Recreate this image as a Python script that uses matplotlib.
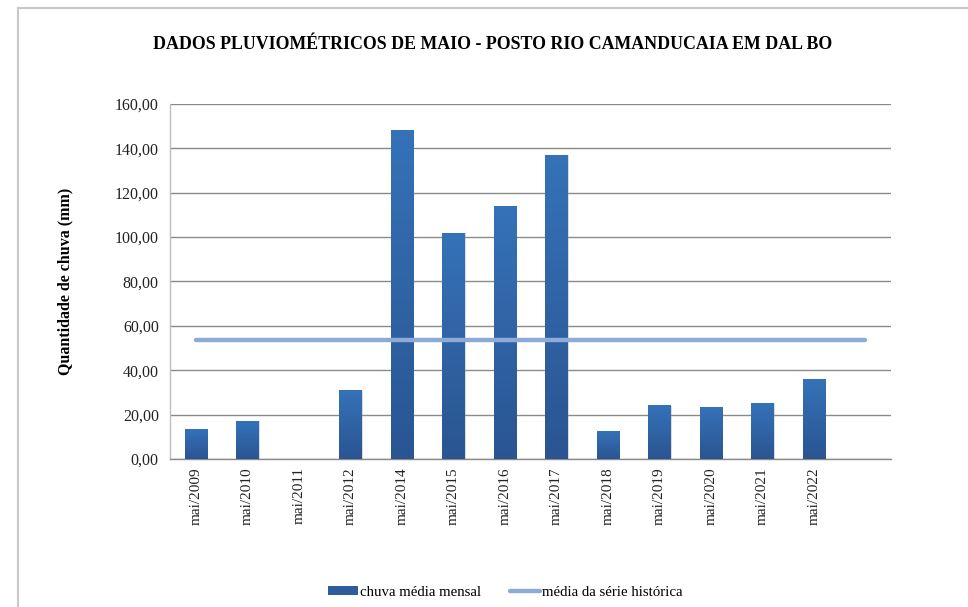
import matplotlib
matplotlib.use("Agg")
import matplotlib.pyplot as plt
import numpy as np
from matplotlib.colors import LinearSegmentedColormap
from matplotlib.lines import Line2D
from matplotlib.patches import Patch

# Monthly May rainfall (mm) at the Rio Camanducaia station in Dal Bo
categories = ["mai/2009", "mai/2010", "mai/2011", "mai/2012", "mai/2014",
              "mai/2015", "mai/2016", "mai/2017", "mai/2018", "mai/2019",
              "mai/2020", "mai/2021", "mai/2022", ""]
rain = [13.1, 17.1, 0.0, 30.8, 148.2, 101.8, 114.0, 137.0, 12.2, 23.9,
        23.4, 25.2, 36.0, 0.0]
historic_mean = [53.8] * len(categories)
yticks = [0, 20, 40, 60, 80, 100, 120, 140, 160]

plt.rcParams["font.family"] = ["Liberation Serif", "DejaVu Serif"]

fig = plt.figure(figsize=(9.68, 6.07), dpi=100)
ax = fig.add_axes([0.1756, 0.2438, 0.7449, 0.5849])

x = np.arange(len(categories))
bar_w = 0.43
grad = LinearSegmentedColormap.from_list("bar", ["#2a5592", "#3572b8"])
gimg = np.linspace(0, 1, 256).reshape(-1, 1)

for xi, v in zip(x, rain):
    if v <= 0:
        continue
    # soft shadow behind each bar
    ax.bar(xi + 0.03, v, width=bar_w, color="#9a9a9a", alpha=0.35,
           zorder=2, linewidth=0)
    ax.imshow(gimg, cmap=grad, origin="lower", aspect="auto",
              extent=(xi - bar_w / 2, xi + bar_w / 2, 0, v), zorder=3)

ax.plot(x, historic_mean, color="#8eaad6", linewidth=3.2,
        solid_capstyle="round", zorder=4)

ax.set_xlim(-0.5, len(categories) - 0.5)
ax.set_ylim(0, 160)
ax.set_yticks(yticks)
ax.set_yticklabels([f"{t:.2f}".replace(".", ",") for t in yticks],
                   fontsize=11.5, color="#222222")
ax.set_xticks(x)
ax.set_xticklabels(categories, rotation=90, fontsize=11, color="#222222")
ax.tick_params(axis="both", length=0, pad=8)
ax.tick_params(axis="x", pad=6)

ax.grid(axis="y", color="#8a8a8a", linewidth=1.0, zorder=0)
ax.set_axisbelow(True)
for s in ["top", "right"]:
    ax.spines[s].set_visible(False)
ax.spines["left"].set_color("#bfbfbf")
ax.spines["bottom"].set_color("#8a8a8a")
ax.spines["left"].set_linewidth(1.0)
ax.spines["bottom"].set_linewidth(1.0)

ax.set_ylabel("Quantidade de chuva (mm)", fontsize=11.5, fontweight="bold",
              labelpad=30)

fig.text(0.509, 0.927, "DADOS PLUVIOMÉTRICOS DE MAIO - POSTO RIO CAMANDUCAIA EM DAL BO",
         ha="center", va="center", fontsize=12.9, fontweight="bold")

handles = [Patch(facecolor="#2e5c9c", edgecolor="none"),
           Line2D([0], [0], color="#8eaad6", linewidth=3.2,
                  solid_capstyle="round")]
fig.legend(handles, ["chuva média mensal", "média da série histórica"],
           loc="center", bbox_to_anchor=(0.522, 0.024), ncol=2,
           frameon=False, fontsize=10.7, handlelength=2.0,
           handleheight=0.6, handletextpad=0.1, columnspacing=2.0)

# chart frame
fig.add_artist(Line2D([18 / 968, 18 / 968], [0, 1 - 8 / 607],
                      transform=fig.transFigure, color="#c8c8c8", linewidth=1.5))
fig.add_artist(Line2D([18 / 968, 1], [1 - 8 / 607, 1 - 8 / 607],
                      transform=fig.transFigure, color="#c8c8c8", linewidth=1.5))

fig.savefig("out.png", dpi=100, facecolor="white")
